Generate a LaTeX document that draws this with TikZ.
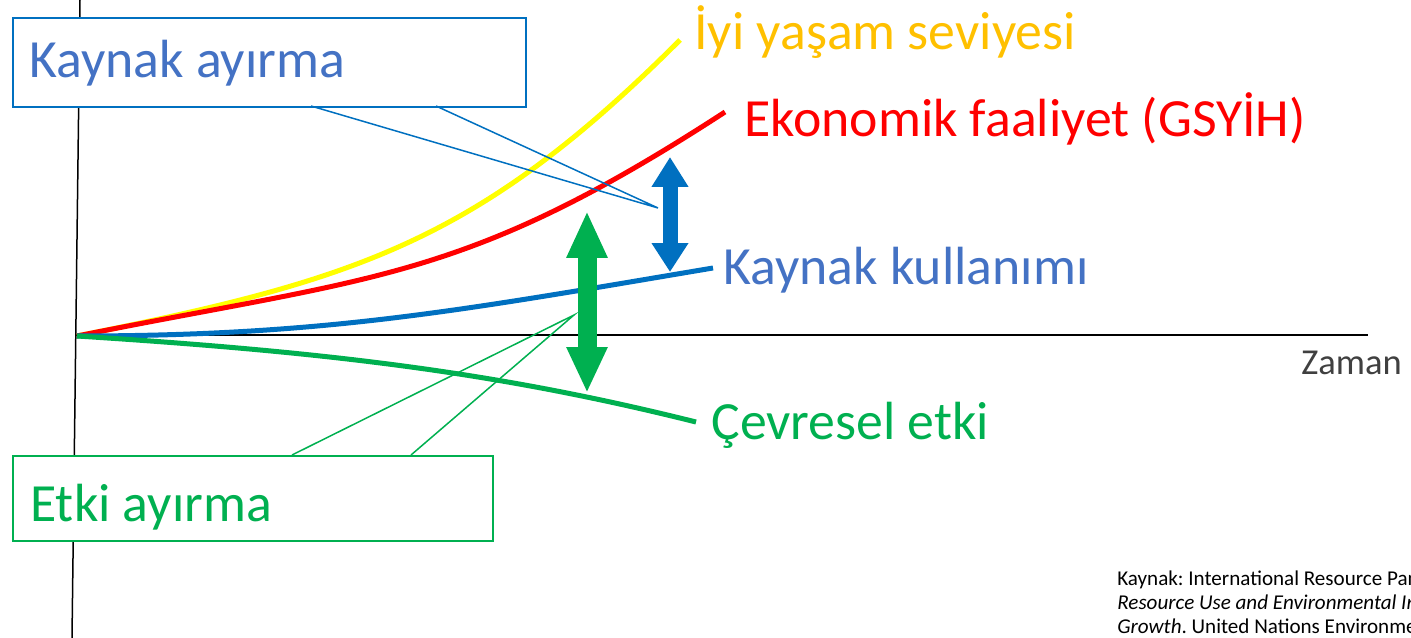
\documentclass[tikz,border=0pt]{standalone}
\usepackage{fontspec}
\setmainfont{Carlito}
\usetikzlibrary{arrows.meta}

\definecolor{lineyellow}{HTML}{FFFF00}
\definecolor{textgold}{HTML}{FFC000}
\definecolor{linered}{HTML}{FF0000}
\definecolor{lineblue}{HTML}{0070C0}
\definecolor{textblue}{HTML}{4472C4}
\definecolor{linegreen}{HTML}{00B050}
\definecolor{axisgray}{HTML}{404040}

\tikzset{
  curve/.style={line width=1mm},
  lbl/.style={anchor=base west, inner sep=0pt, font=\fontsize{30.6}{36}\selectfont},
  callbox/.style={draw, fill=white, line width=0.4mm, anchor=north west, inner sep=0pt},
  tail/.style={line width=0.3mm},
}

\begin{document}
\frenchspacing
\begin{tikzpicture}[x=0.02cm, y=-0.02cm]
      \useasboundingbox (0,0) rectangle (1411,638);
      \clip (0,0) rectangle (1411,638);
      % axes
      \coordinate (o) at (77,336);
      \coordinate (ytop) at (80,0);
      \coordinate (ybot) at (72,638);
      \coordinate (xend) at (1368,335);
      \draw[line width=0.3mm] (ytop) -- (ybot);
      \draw[line width=0.3mm] (75,335) -- (xend);
      \node[anchor=base west, inner sep=0pt, text=axisgray,
            font=\fontsize{20.8}{24}\selectfont] (zaman) at (1301,375) {Zaman};
      % curves
      \coordinate (yend) at (680,40);
      \coordinate (rend) at (725,112);
      \coordinate (bend) at (713,268);
      \coordinate (gend) at (696,422);
      \draw[curve, lineyellow] (o) .. controls (357,280) and (478,242) .. (yend);
      \draw[curve, linered] (o) .. controls (377,276) and (465,281) .. (rend);
      \draw[curve, lineblue] (o) .. controls (327,336) and (463,310) .. (bend);
      \draw[curve, linegreen] (o) .. controls (327,352) and (496,372) .. (gend);
      % curve labels
      \node[lbl, text=textgold] (iyi) at (694,50) {İyi yaşam seviyesi};
      \node[lbl, text=linered] (gsyih) at (744,137) {Ekonomik faaliyet (GSYİH)};
      \node[lbl, text=textblue] (kullanim) at (723,285) {Kaynak kullanımı};
      \node[lbl, text=linegreen] (cevre) at (711,440) {Çevresel etki};
      % callout boxes
      \node[callbox, draw=lineblue, minimum width=10.26cm, minimum height=1.78cm]
            (kbox) at (12,17) {};
      \node[lbl, text=textblue] (ktext) at (29,78) {Kaynak ayırma};
      \node[callbox, draw=linegreen, minimum width=9.6cm, minimum height=1.7cm]
            (ebox) at (12,455) {};
      \node[lbl, text=linegreen] (etext) at (30,522) {Etki ayırma};
      \coordinate (ktip) at (658,208);
      \coordinate (ktailA) at (311,106);
      \coordinate (ktailB) at (436,106);
      \draw[tail, lineblue] (ktailA) -- (ktip) -- (ktailB);
      \coordinate (etip) at (574,315);
      \coordinate (etailA) at (292,455);
      \coordinate (etailB) at (411,455);
      \draw[tail, linegreen] (etailA) -- (etip) -- (etailB);
      % gap arrows
      \coordinate (btop) at (670,157);
      \coordinate (bbot) at (670,272);
      \draw[lineblue, line width=3mm,
            {Triangle[width=7mm,length=6mm]}-{Triangle[width=7mm,length=5.8mm]}] (btop) -- (bbot);
      \coordinate (gtop) at (587,211);
      \coordinate (gbot) at (587,393);
      \draw[linegreen, line width=3.8mm,
            {Triangle[width=7.6mm,length=9.4mm]}-{Triangle[width=7.6mm,length=9.2mm]}] (gtop) -- (gbot);
      % source
      \node[anchor=north west, inner sep=0pt, align=left,
            font=\fontsize{12}{13.6}\selectfont] (kaynak) at (1117,571)
            {Kaynak: International Resource Panel\\
             \textit{Resource Use and Environmental Impacts}\\
             \textit{Growth}. United Nations Environment};
  \end{tikzpicture}
\end{document}
